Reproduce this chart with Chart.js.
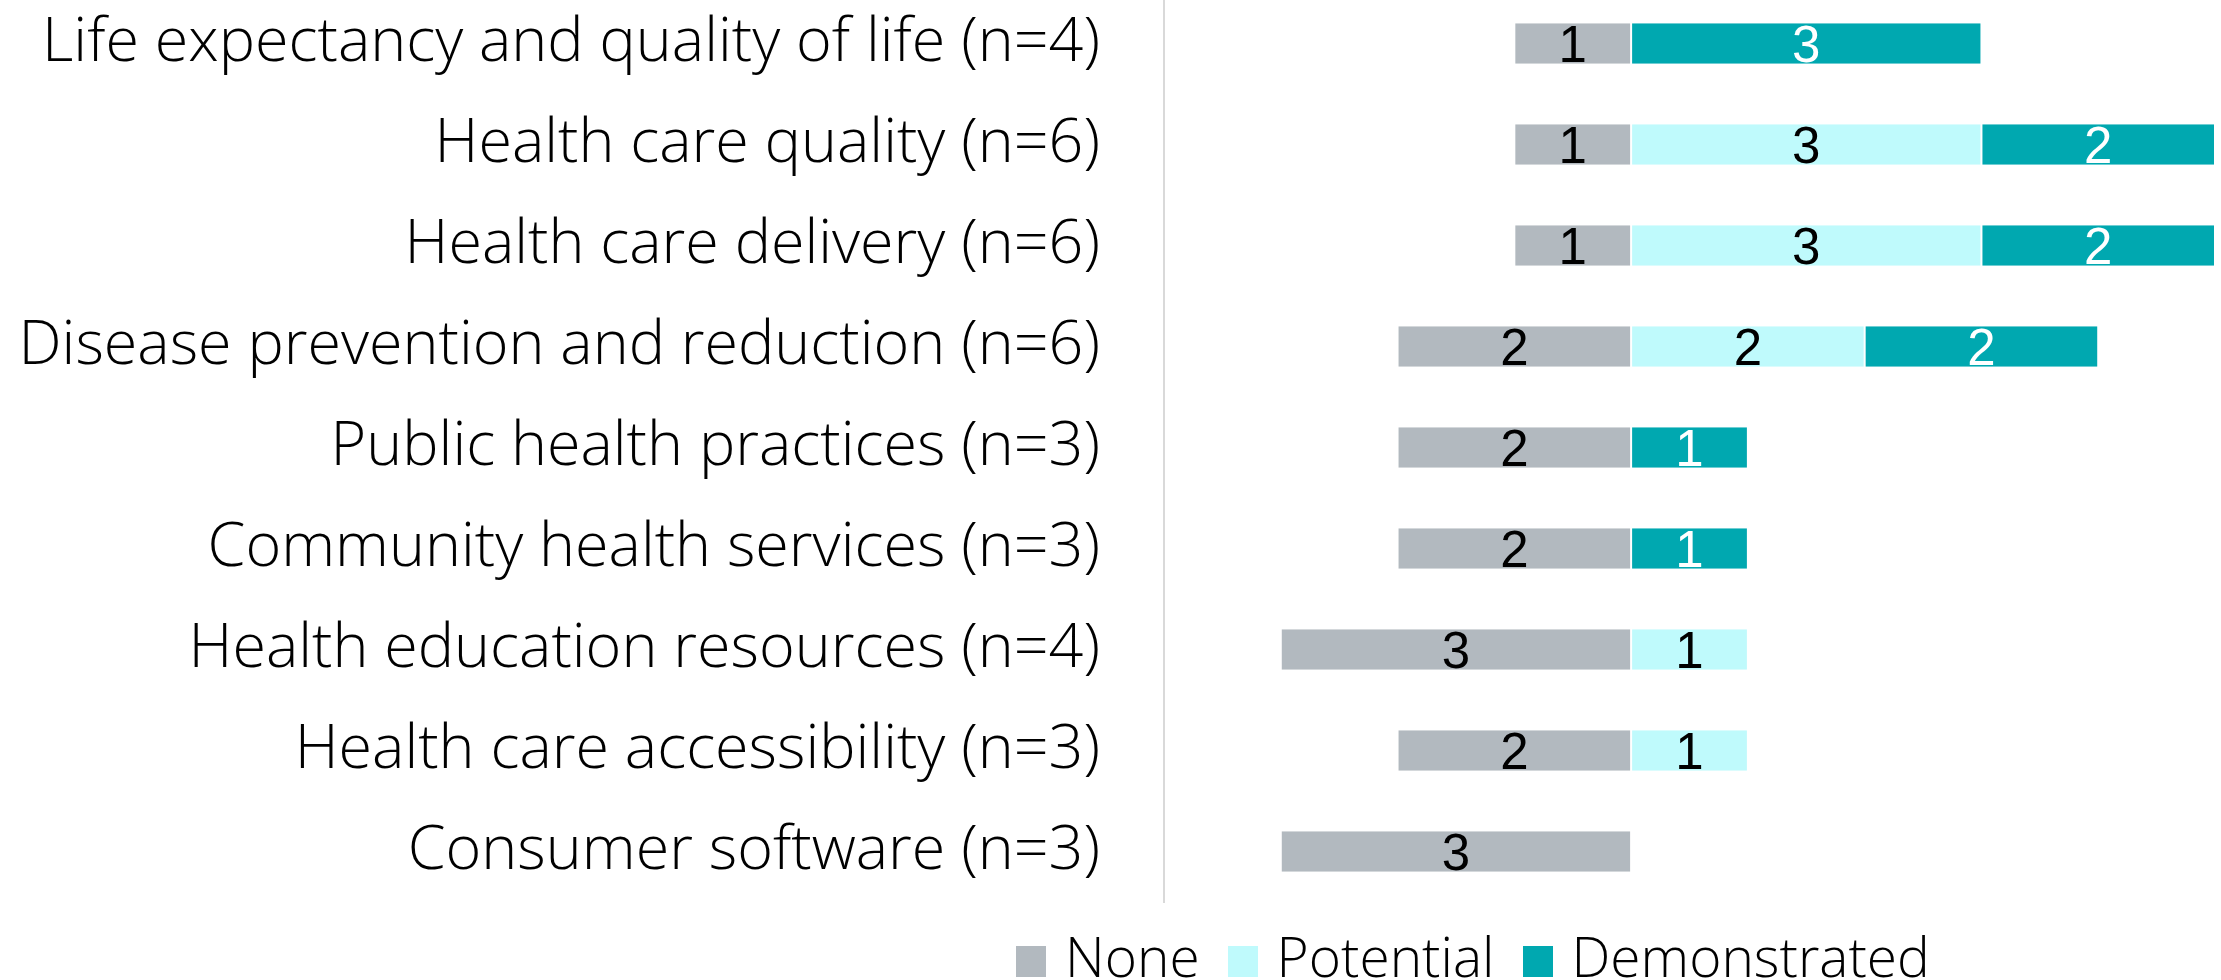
<!DOCTYPE html>
<html>
<head>
<meta charset="utf-8">
<script src="https://cdn.jsdelivr.net/npm/chart.js@4/dist/chart.umd.min.js"></script>
<style>
  html, body { margin: 0; padding: 0; background: #fff; }
  #wrap { position: relative; width: 2221px; height: 980px; overflow: hidden; }
  #impactChart { position: absolute; left: 0; top: -7px; }
  #legend {
    position: absolute; left: 1016px; top: 928px;
    display: flex; align-items: flex-start;
    font-family: "Open Sans", sans-serif; font-weight: 300; font-size: 55px; color: #000;
    white-space: nowrap; line-height: 1;
  }
  #legend span.box { display: inline-block; width: 30px; height: 31px; margin-right: 19px; margin-top: 18px; }
  #legend span.txt { margin-right: 28px; }
</style>
</head>
<body>
<div id="wrap">
  <canvas id="impactChart" width="2221" height="987"></canvas>
  <div id="legend"></div>
</div>
<script>
const categories = [
  "Life expectancy and quality of life (n=4)",
  "Health care quality (n=6)",
  "Health care delivery (n=6)",
  "Disease prevention and reduction (n=6)",
  "Public health practices (n=3)",
  "Community health services (n=3)",
  "Health education resources (n=4)",
  "Health care accessibility (n=3)",
  "Consumer software (n=3)"
];
const noneCounts = [1, 1, 1, 2, 2, 2, 3, 2, 3];
const potentialCounts = [0, 3, 3, 2, 0, 0, 1, 1, 0];
const demonstratedCounts = [3, 2, 2, 2, 1, 1, 0, 0, 0];

const seriesNames = ["None", "Potential", "Demonstrated"];
const seriesColors = ["rgb(178, 185, 191)", "rgb(191, 250, 252)", "rgb(0, 168, 176)"];
const labelColors = ["#000", "#000", "#fff"];

// "None" goes to the left of zero, the others stack to the right
const segBorder = { left: 1, right: 1, top: 0, bottom: 0 };

// draws the count in the middle of each segment
const valueLabels = {
  id: "valueLabels",
  afterDatasetsDraw(chart) {
    const ctx = chart.ctx;
    ctx.save();
    ctx.font = "51px 'Liberation Sans', Arial, sans-serif";
    ctx.textAlign = "center";
    ctx.textBaseline = "middle";
    chart.data.datasets.forEach((ds, i) => {
      const meta = chart.getDatasetMeta(i);
      meta.data.forEach((bar, j) => {
        const v = Math.abs(ds.data[j]);
        if (!v) return;
        ctx.fillStyle = labelColors[i];
        ctx.fillText(String(v), (bar.x + bar.base) / 2, bar.y + 4);
      });
    });
    ctx.restore();
  }
};

const config = {
  type: "bar",
  data: {
    labels: categories,
    datasets: [
      {
        label: seriesNames[0],
        data: noneCounts.map(v => -v),
        backgroundColor: seriesColors[0],
        borderColor: "#fff",
        borderWidth: segBorder,
        borderSkipped: false
      },
      {
        label: seriesNames[1],
        data: potentialCounts,
        backgroundColor: seriesColors[1],
        borderColor: "#fff",
        borderWidth: segBorder,
        borderSkipped: false
      },
      {
        label: seriesNames[2],
        data: demonstratedCounts,
        backgroundColor: seriesColors[2],
        borderColor: "#fff",
        borderWidth: segBorder,
        borderSkipped: false
      }
    ]
  },
  options: {
    indexAxis: "y",
    responsive: false,
    animation: false,
    layout: { padding: { top: 0, right: 6, bottom: 78, left: 0 } },
    datasets: { bar: { barPercentage: 0.4, categoryPercentage: 1 } },
    plugins: {
      legend: { display: false },
      tooltip: { enabled: false }
    },
    scales: {
      x: {
        stacked: true,
        min: -4,
        max: 5,
        display: false
      },
      y: {
        stacked: true,
        grid: { display: false, drawTicks: false },
        border: { display: true, color: "#d9d9d9", width: 2 },
        ticks: {
          color: "#000",
          padding: 64,
          font: { family: "'Open Sans', sans-serif", size: 61, weight: 300 }
        },
        afterFit: (scale) => {
          scale.width = 1164;
          scale.paddingTop = 0;
          scale.paddingBottom = 0;
        }
      }
    }
  },
  plugins: [valueLabels]
};

const impactChart = new Chart(document.getElementById("impactChart"), config);

// legend built from the series arrays
const legendEl = document.getElementById("legend");
seriesNames.forEach((name, i) => {
  const box = document.createElement("span");
  box.className = "box";
  box.style.background = seriesColors[i];
  const txt = document.createElement("span");
  txt.className = "txt";
  txt.textContent = name;
  legendEl.appendChild(box);
  legendEl.appendChild(txt);
});
</script>
</body>
</html>
